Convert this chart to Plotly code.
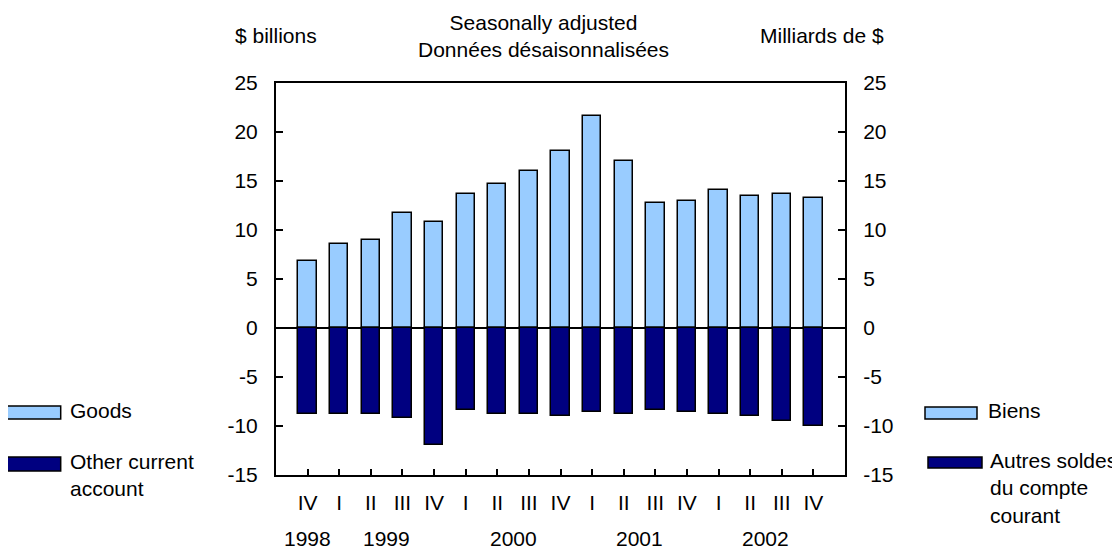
import plotly.graph_objects as go

# ---- data ----
quarters = ["IV", "I", "II", "III", "IV", "I", "II", "III", "IV",
            "I", "II", "III", "IV", "I", "II", "III", "IV"]
bar_years = [1998, 1999, 1999, 1999, 1999, 2000, 2000, 2000, 2000,
             2001, 2001, 2001, 2001, 2002, 2002, 2002, 2002]
goods = [6.8, 8.6, 9.0, 11.7, 10.8, 13.7, 14.7, 16.0, 18.1,
         21.6, 17.0, 12.8, 13.0, 14.1, 13.5, 13.7, 13.3]
other = [-8.8, -8.8, -8.8, -9.2, -11.9, -8.4, -8.8, -8.8, -9.0,
         -8.6, -8.8, -8.4, -8.6, -8.8, -9.0, -9.5, -10.0]
y_ticks = [-15, -10, -5, 0, 5, 10, 15, 20, 25]
y_tick_text = [str(v) for v in y_ticks]

# ---- layout geometry (page pixels; page body has an 8px margin) ----
OFF = 8
W, H = 1120 - OFF, 550 - OFF
PLOT_L, PLOT_R, PLOT_T, PLOT_B = 276, 845, 83, 475   # page coords of plot box
PW, PH = PLOT_R - PLOT_L, PLOT_B - PLOT_T
L, T = PLOT_L - OFF, PLOT_T - OFF
R, B = W - L - PW, H - T - PH


def px(x):
    return (x - PLOT_L) / PW


def py(y):
    return (PLOT_B - y) / PH


FONT = "Liberation Sans, Arial, sans-serif"
FS = 21
LIGHT = "#99CCFF"
DARK = "#000080"

idx = list(range(len(quarters)))

fig = go.Figure()
fig.add_trace(go.Bar(x=idx, y=goods, width=0.58, name="Goods",
                     marker=dict(color=LIGHT, line=dict(color="black", width=1.5)),
                     showlegend=False, hoverinfo="x+y"))
fig.add_trace(go.Bar(x=idx, y=other, width=0.58, name="Other current account",
                     marker=dict(color=DARK, line=dict(color="black", width=1.5)),
                     showlegend=False, hoverinfo="x+y"))
# empty trace to carry the right-hand axis
fig.add_trace(go.Scatter(x=[], y=[], yaxis="y2", showlegend=False))

axis_common = dict(range=[y_ticks[0], y_ticks[-1]], tickvals=y_ticks, ticktext=y_tick_text,
                   ticks="inside", ticklen=7, tickwidth=2, tickcolor="black",
                   showline=True, linecolor="black", linewidth=2,
                   showgrid=False, tickfont=dict(family=FONT, size=FS, color="black"),
                   ticklabelstandoff=12)

fig.update_layout(
    width=W, height=H,
    margin=dict(l=L, r=R, t=T, b=B),
    paper_bgcolor="white", plot_bgcolor="white",
    barmode="relative", bargap=0,
    font=dict(family=FONT, size=FS, color="black"),
    xaxis=dict(range=[-1, len(quarters)], tickvals=idx, ticktext=quarters,
               ticks="inside", ticklen=6, tickwidth=1.5, tickcolor="black",
               showline=True, linecolor="black", linewidth=2, mirror=True,
               showgrid=False, zeroline=False,
               tickfont=dict(family=FONT, size=FS, color="black"),
               ticklabelstandoff=8),
    yaxis=dict(**axis_common, zeroline=True, zerolinecolor="black", zerolinewidth=1.5),
    yaxis2=dict(**axis_common, overlaying="y", side="right", zeroline=False),
)

# year labels centred under their quarters
for yr in sorted(set(bar_years)):
    pos = [i for i, y in enumerate(bar_years) if y == yr]
    fig.add_annotation(x=sum(pos) / len(pos), y=py(538), xref="x", yref="paper",
                       text=str(yr), showarrow=False, xanchor="center", yanchor="middle",
                       borderpad=0, font=dict(family=FONT, size=FS))

# header texts
fig.add_annotation(x=px(543), y=py(36), xref="paper", yref="paper",
                   text="Seasonally adjusted<br>Données désaisonnalisées",
                   showarrow=False, xanchor="center", yanchor="middle", align="center")
fig.add_annotation(x=px(276), y=py(36), xref="paper", yref="paper",
                   text="$ billions", showarrow=False, xanchor="center", yanchor="middle")
fig.add_annotation(x=px(822), y=py(36), xref="paper", yref="paper",
                   text="Milliards de $", showarrow=False, xanchor="center", yanchor="middle")

# legends (left English, right French)
legend_items = [
    (6.7, 60.7, 406, 419, LIGHT, 68, 410, "Goods"),
    (6.7, 60.7, 457, 471, DARK, 68, 475, "Other current<br>account"),
    (925, 977, 407, 419, LIGHT, 986, 410, "Biens"),
    (928, 982, 457, 468, DARK, 988, 487.5, "Autres soldes<br>du compte<br>courant"),
]
for x0, x1, y0, y1, col, tx, ty, label in legend_items:
    fig.add_shape(type="rect", xref="paper", yref="paper",
                  x0=px(x0), x1=px(x1), y0=py(y1), y1=py(y0),
                  fillcolor=col, line=dict(color="black", width=1.5))
    fig.add_annotation(x=px(tx), y=py(ty), xref="paper", yref="paper", text=label,
                       showarrow=False, xanchor="left", yanchor="middle", align="left")

fig.write_html("out.html")
